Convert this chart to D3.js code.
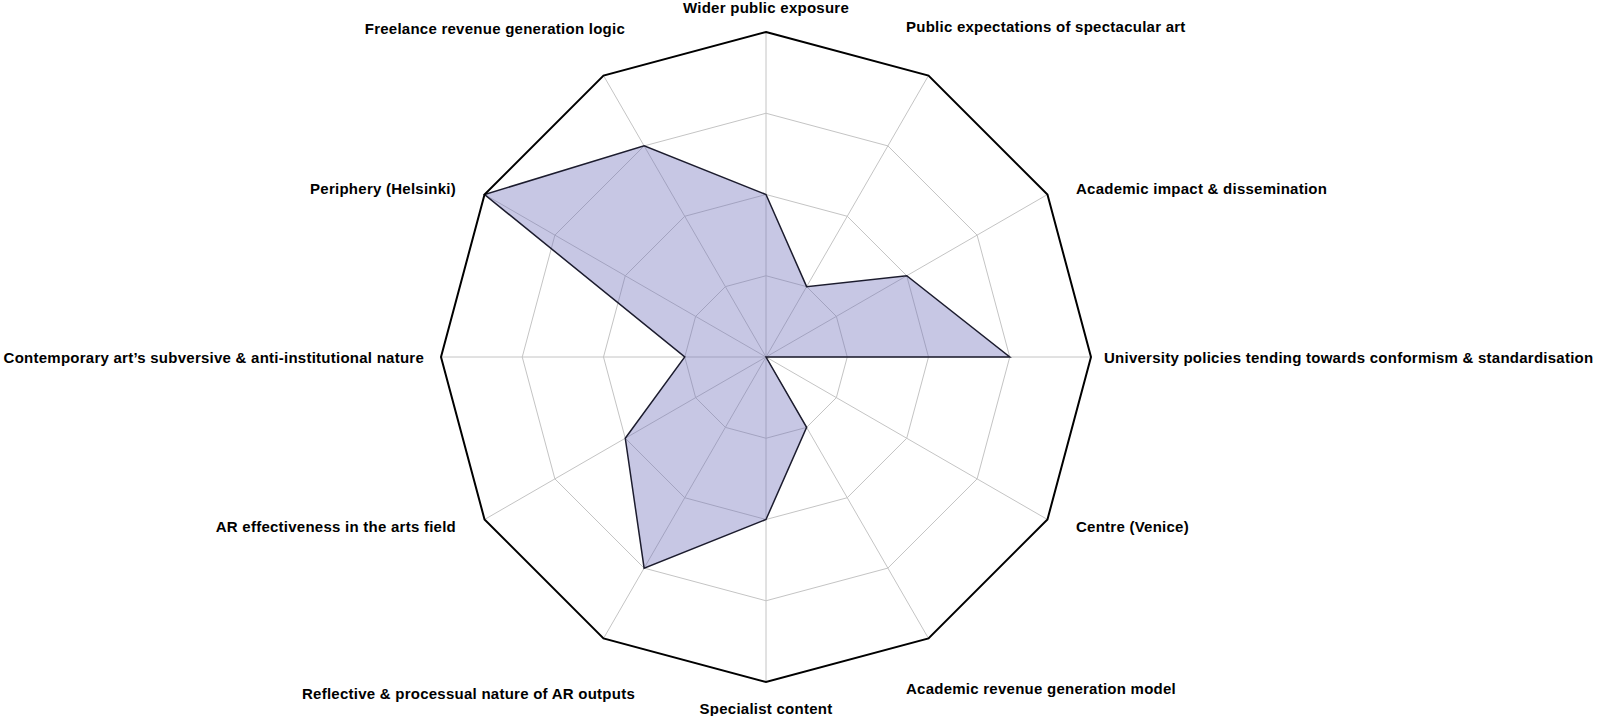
<!DOCTYPE html>
<html>
<head>
<meta charset="utf-8">
<script src="https://cdn.jsdelivr.net/npm/d3@7"></script>
<style>
  html, body { margin: 0; padding: 0; background: #fff; }
  text { font-family: "Liberation Sans", Arial, Helvetica, sans-serif; font-weight: bold; }
</style>
</head>
<body>
<div id="chart"></div>
<script>
/** Axis names, clockwise from the top. */
const axes = [
    "Wider public exposure",
    "Public expectations of spectacular art",
    "Academic impact & dissemination",
    "University policies tending towards conformism & standardisation",
    "Centre (Venice)",
    "Academic revenue generation model",
    "Specialist content",
    "Reflective & processual nature of AR outputs",
    "AR effectiveness in the arts field",
    "Contemporary art\u2019s subversive & anti-institutional nature",
    "Periphery (Helsinki)",
    "Freelance revenue generation logic"
];

/** Score per axis. */
const scores = [2, 1, 2, 3, 0, 1, 2, 3, 2, 1, 4, 3];

/** Grid rings. */
const levels = [1, 2, 3, 4];

/** Page size. */
const WIDTH = 1600;
const HEIGHT = 716;

/** Centre and outer radius of the web. */
const CX = 766;
const CY = 357;
const RADIUS = 325;

/** Label placement: anchor and offset from the centre, per axis. */
const LABEL_LAYOUT = [
    ["middle", 0, -350], ["start", 140, -331], ["start", 310, -169],
    ["start", 338, 0], ["start", 310, 169], ["start", 140, 331],
    ["middle", 0, 351], ["end", -131, 336], ["end", -310, 169],
    ["end", -342, 0], ["end", -310, -169], ["end", -141, -329]
];

const r = d3.scaleLinear().domain([0, d3.max(levels)]).range([0, RADIUS]);
const angle = d3.scalePoint().domain(d3.range(axes.length)).range([0, 2 * Math.PI * (axes.length - 1) / axes.length]);

const line = d3.lineRadial()
    .angle((d, i) => angle(i))
    .radius(d => r(d))
    .curve(d3.curveLinearClosed);

let svg = d3.select("#chart").append("svg")
    .attr("width", WIDTH)
    .attr("height", HEIGHT);

let g = svg.append("g").attr("transform", `translate(${CX},${CY})`);

// Spokes
g.selectAll("spoke")
    .data(axes)
    .enter()
    .append("line")
    .attr("x1", 0)
    .attr("y1", 0)
    .attr("x2", (d, i) => r(d3.max(levels)) * Math.sin(angle(i)))
    .attr("y2", (d, i) => -r(d3.max(levels)) * Math.cos(angle(i)))
    .attr("stroke", "#c4c4c4")
    .attr("stroke-width", 1);

// Inner rings
g.selectAll("ring")
    .data(levels.slice(0, -1))
    .enter()
    .append("path")
    .attr("d", lv => line(axes.map(() => lv)))
    .attr("fill", "none")
    .attr("stroke", "#c4c4c4")
    .attr("stroke-width", 1);

// Scores
g.append("path")
    .attr("d", line(scores))
    .attr("fill", "rgb(115,115,187)")
    .attr("fill-opacity", 0.4)
    .attr("stroke", "#1c1c2e")
    .attr("stroke-width", 1.5)
    .attr("stroke-linejoin", "miter");

// Outer ring
g.append("path")
    .attr("d", line(axes.map(() => d3.max(levels))))
    .attr("fill", "none")
    .attr("stroke", "#000")
    .attr("stroke-width", 2);

// Axis labels
g.selectAll("label")
    .data(axes)
    .enter()
    .append("text")
    .attr("x", (d, i) => LABEL_LAYOUT[i][1])
    .attr("y", (d, i) => LABEL_LAYOUT[i][2])
    .attr("text-anchor", (d, i) => LABEL_LAYOUT[i][0])
    .attr("dominant-baseline", "central")
    .attr("font-size", 15)
    .attr("letter-spacing", "0.25px")
    .attr("fill", "#000")
    .text(d => d);
</script>
</body>
</html>
